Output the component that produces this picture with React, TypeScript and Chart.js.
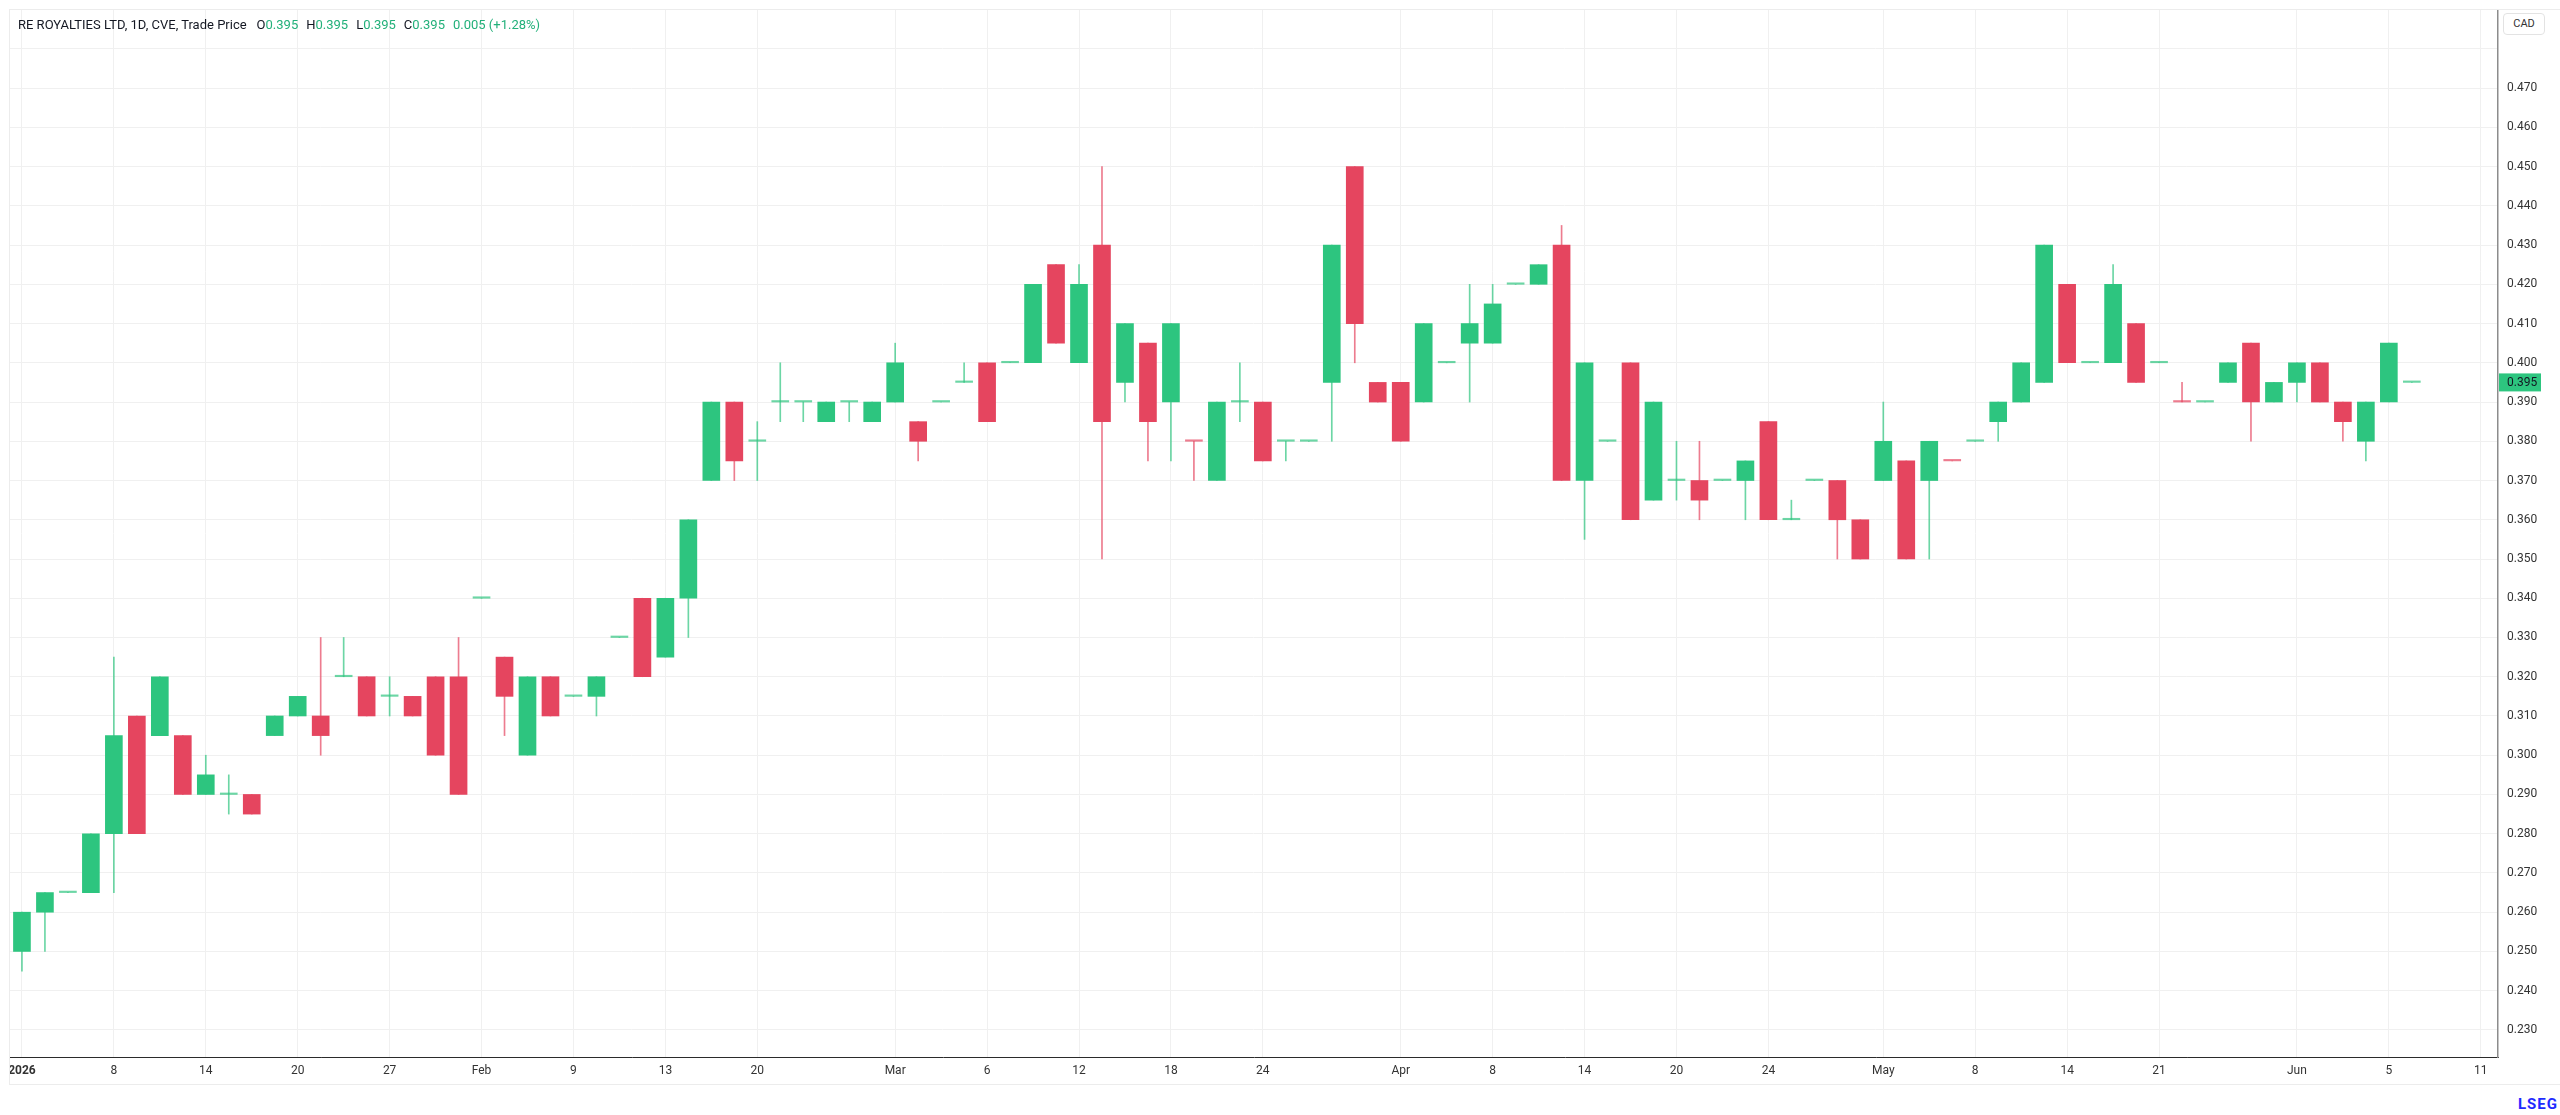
import React, { useEffect, useRef } from 'react';
import { Chart, registerables } from 'chart.js';

Chart.register(...registerables);

// daily bars, one per trading session with trades (index = bar number)
const opens = [
    0.25, 0.26, 0.265, 0.265, 0.28, 0.31, 0.305, 0.305, 0.29, 0.29,
    0.29, 0.305, 0.31, 0.31, 0.32, 0.32, 0.315, 0.315, 0.32, 0.32,
    0.34, 0.325, 0.30, 0.32, 0.315, 0.315, 0.33, 0.34, 0.325, 0.34,
    0.37, 0.39, 0.38, 0.39, 0.39, 0.385, 0.39, 0.385, 0.39, 0.385,
    0.39, 0.395, 0.40, 0.40, 0.40, 0.425, 0.40, 0.43, 0.395, 0.405,
    0.39, 0.38, 0.37, 0.39, 0.39, 0.38, 0.38, 0.395, 0.45, 0.395,
    0.395, 0.39, 0.40, 0.405, 0.405, 0.42, 0.42, 0.43, 0.37, 0.38,
    0.40, 0.365, 0.37, 0.37, 0.37, 0.37, 0.385, 0.36, 0.37, 0.37,
    0.36, 0.37, 0.375, 0.37, 0.375, 0.38, 0.385, 0.39, 0.395, 0.42,
    0.40, 0.40, 0.41, 0.40, 0.39, 0.39, 0.395, 0.405, 0.39, 0.395,
    0.40, 0.39, 0.38, 0.39, 0.395,
];
const highs = [
    0.26, 0.265, 0.265, 0.28, 0.325, 0.31, 0.32, 0.305, 0.30, 0.295,
    0.29, 0.31, 0.315, 0.33, 0.33, 0.32, 0.32, 0.315, 0.32, 0.33,
    0.34, 0.325, 0.32, 0.32, 0.315, 0.32, 0.33, 0.34, 0.34, 0.36,
    0.39, 0.39, 0.385, 0.40, 0.39, 0.39, 0.39, 0.39, 0.405, 0.385,
    0.39, 0.40, 0.40, 0.40, 0.42, 0.425, 0.425, 0.45, 0.41, 0.405,
    0.41, 0.38, 0.39, 0.40, 0.39, 0.38, 0.38, 0.43, 0.45, 0.395,
    0.395, 0.41, 0.40, 0.42, 0.42, 0.42, 0.425, 0.435, 0.40, 0.38,
    0.40, 0.39, 0.38, 0.38, 0.37, 0.375, 0.385, 0.365, 0.37, 0.37,
    0.36, 0.39, 0.375, 0.38, 0.375, 0.38, 0.39, 0.40, 0.43, 0.42,
    0.40, 0.425, 0.41, 0.40, 0.395, 0.39, 0.40, 0.405, 0.395, 0.40,
    0.40, 0.39, 0.39, 0.405, 0.395,
];
const lows = [
    0.245, 0.25, 0.265, 0.265, 0.265, 0.28, 0.305, 0.29, 0.29, 0.285,
    0.285, 0.305, 0.31, 0.30, 0.32, 0.31, 0.31, 0.31, 0.30, 0.29,
    0.34, 0.305, 0.30, 0.31, 0.315, 0.31, 0.33, 0.32, 0.325, 0.33,
    0.37, 0.37, 0.37, 0.385, 0.385, 0.385, 0.385, 0.385, 0.39, 0.375,
    0.39, 0.395, 0.385, 0.40, 0.40, 0.405, 0.40, 0.35, 0.39, 0.375,
    0.375, 0.37, 0.37, 0.385, 0.375, 0.375, 0.38, 0.38, 0.40, 0.39,
    0.38, 0.39, 0.40, 0.39, 0.405, 0.42, 0.42, 0.37, 0.355, 0.38,
    0.36, 0.365, 0.365, 0.36, 0.37, 0.36, 0.36, 0.36, 0.37, 0.35,
    0.35, 0.37, 0.35, 0.35, 0.375, 0.38, 0.38, 0.39, 0.395, 0.40,
    0.40, 0.40, 0.395, 0.40, 0.39, 0.39, 0.395, 0.38, 0.39, 0.39,
    0.39, 0.38, 0.375, 0.39, 0.395,
];
const closes = [
    0.26, 0.265, 0.265, 0.28, 0.305, 0.28, 0.32, 0.29, 0.295, 0.29,
    0.285, 0.31, 0.315, 0.305, 0.32, 0.31, 0.315, 0.31, 0.30, 0.29,
    0.34, 0.315, 0.32, 0.31, 0.315, 0.32, 0.33, 0.32, 0.34, 0.36,
    0.39, 0.375, 0.38, 0.39, 0.39, 0.39, 0.39, 0.39, 0.40, 0.38,
    0.39, 0.395, 0.385, 0.40, 0.42, 0.405, 0.42, 0.385, 0.41, 0.385,
    0.41, 0.38, 0.39, 0.39, 0.375, 0.38, 0.38, 0.43, 0.41, 0.39,
    0.38, 0.41, 0.40, 0.41, 0.415, 0.42, 0.425, 0.37, 0.40, 0.38,
    0.36, 0.39, 0.37, 0.365, 0.37, 0.375, 0.36, 0.36, 0.37, 0.36,
    0.35, 0.38, 0.35, 0.38, 0.375, 0.38, 0.39, 0.40, 0.43, 0.40,
    0.40, 0.42, 0.395, 0.40, 0.39, 0.39, 0.40, 0.39, 0.395, 0.40,
    0.39, 0.385, 0.39, 0.405, 0.395,
];
// flat bars that printed red
const downDojis = [51, 84, 94];

const dateTickIdx = [0, 4, 8, 12, 16, 20, 24, 28, 32, 38, 42, 46, 50, 54, 60, 64, 68, 72, 76, 81, 85, 89, 93, 99, 103, 107];
const dateTickLabels = ['2026', '8', '14', '20', '27', 'Feb', '9', '13', '20', 'Mar', '6', '12', '18', '24', 'Apr', '8', '14', '20', '24', 'May', '8', '14', '21', 'Jun', '5', '11'];
const priceTicks = [0.23, 0.24, 0.25, 0.26, 0.27, 0.28, 0.29, 0.30, 0.31, 0.32, 0.33, 0.34, 0.35, 0.36, 0.37, 0.38, 0.39, 0.40, 0.41, 0.42, 0.43, 0.44, 0.45, 0.46, 0.47, 0.48];
const lastPrice = 0.395;

const UP = '#2dc57f';
const DOWN = '#e5455f';
const UP_SOFT = 'rgba(45, 197, 127, 0.7)';
const DOWN_SOFT = 'rgba(229, 69, 95, 0.7)';
const FONT = 'Roboto, "Open Sans", sans-serif';

const isUp = (i: number) => closes[i] > opens[i] || (closes[i] === opens[i] && !downDojis.includes(i));

const lastPriceTag = {
    id: 'lastPriceTag',
    afterDraw(chart: Chart) {
        const y = chart.scales.y;
        const { ctx } = chart;
        const py = y.getPixelForValue(lastPrice);
        ctx.save();
        ctx.fillStyle = UP;
        ctx.fillRect(y.left + 1, py - 9, 42, 18);
        ctx.fillStyle = '#131722';
        ctx.font = `12px ${FONT}`;
        ctx.textBaseline = 'middle';
        ctx.fillText(lastPrice.toFixed(3), y.left + 9, py + 0.5);
        ctx.restore();
    },
};

const CandleChart: React.FC = () => {
    const canvasRef = useRef<HTMLCanvasElement | null>(null);

    useEffect(() => {
        if (!canvasRef.current) return;
        const idx = opens.map((_, i) => i);

        const chart = new Chart(canvasRef.current, {
            type: 'bar',
            data: {
                datasets: [
                    {
                        label: 'body',
                        data: idx.map(i => ({ x: i, y: [opens[i], closes[i]] })) as any,
                        backgroundColor: idx.map(i => {
                            const flat = opens[i] === closes[i];
                            if (isUp(i)) return flat ? UP_SOFT : UP;
                            return flat ? DOWN_SOFT : DOWN;
                        }),
                        borderWidth: 0,
                        barThickness: 17,
                        minBarLength: 1.5,
                        grouped: false,
                    },
                    {
                        label: 'wick',
                        data: idx.map(i => ({ x: i, y: [lows[i], highs[i]] })) as any,
                        backgroundColor: idx.map(i => (isUp(i) ? UP_SOFT : DOWN_SOFT)),
                        borderWidth: 0,
                        barThickness: 1,
                        grouped: false,
                    },
                ],
            },
            options: {
                responsive: true,
                maintainAspectRatio: false,
                animation: false,
                layout: { padding: 0 },
                plugins: {
                    legend: { display: false },
                    tooltip: { enabled: false },
                },
                scales: {
                    x: {
                        type: 'linear',
                        min: -0.52,
                        max: 107.75,
                        bounds: 'data',
                        offset: false,
                        afterBuildTicks: (s: any) => {
                            s.ticks = dateTickIdx.map(v => ({ value: v }));
                        },
                        afterFit: (s: any) => {
                            s.height = 28;
                            s.paddingLeft = 0;
                            s.paddingRight = 0;
                        },
                        grid: { color: '#f0f0f0', drawTicks: false, offset: false },
                        border: { color: '#2b2b2b', width: 1 },
                        ticks: {
                            autoSkip: false,
                            maxRotation: 0,
                            padding: 7,
                            color: '#333',
                            font: (c: any) => ({ family: FONT, size: 12, weight: c.index === 0 ? 'bold' : 'normal' }),
                            callback: (_v: any, i: number) => dateTickLabels[i],
                        },
                    },
                    y: {
                        type: 'linear',
                        position: 'right',
                        min: 0.2231,
                        max: 0.4899,
                        bounds: 'data',
                        beginAtZero: false,
                        afterBuildTicks: (s: any) => {
                            s.ticks = priceTicks.map(v => ({ value: v }));
                        },
                        afterFit: (s: any) => {
                            s.width = 62;
                            s.paddingTop = 0;
                            s.paddingBottom = 0;
                        },
                        grid: { color: '#f0f0f0', drawTicks: false },
                        border: { color: '#8c8c8c', width: 1.5 },
                        ticks: {
                            padding: 9,
                            color: '#333',
                            font: { family: FONT, size: 12 },
                            callback: (v: any) => (Number(v) > 0.475 ? '' : Number(v).toFixed(3)),
                        },
                    },
                },
            },
            plugins: [lastPriceTag],
        });

        return () => {
            chart.destroy();
        };
    }, []);

    return <canvas ref={canvasRef} />;
};

const App: React.FC = () => {
    const val: React.CSSProperties = { color: '#22b07a' };
    const gap: React.CSSProperties = { marginLeft: 8 };
    return (
        <div style={{ position: 'fixed', left: 0, top: 0, width: 2560, height: 1115, background: '#fff', fontFamily: FONT, overflow: 'hidden' }}>
            <div style={{ position: 'absolute', left: 9, top: 9, width: 2551, height: 1076, borderTop: '1px solid #ececec', borderLeft: '1px solid #ececec', borderBottom: '1px solid #ececec', boxSizing: 'border-box' }} />
            <div style={{ position: 'absolute', left: 10, top: 10, width: 2550, height: 1075 }}>
                <CandleChart />
            </div>
            <div style={{ position: 'absolute', left: 18, top: 17, fontSize: 13, lineHeight: '16px', color: '#131722', whiteSpace: 'nowrap' }}>
                <span>RE ROYALTIES LTD, 1D, CVE, Trade Price</span>
                <span style={{ marginLeft: 10 }}>O<span style={val}>0.395</span></span>
                <span style={gap}>H<span style={val}>0.395</span></span>
                <span style={gap}>L<span style={val}>0.395</span></span>
                <span style={gap}>C<span style={val}>0.395</span></span>
                <span style={{ ...gap, ...val }}>0.005 (+1.28%)</span>
            </div>
            <div style={{ position: 'absolute', left: 2503, top: 13, width: 42, height: 22, border: '1px solid #e3e3e3', borderRadius: 4, boxSizing: 'border-box', fontSize: 11, lineHeight: '20px', textAlign: 'center', color: '#333', background: '#fff' }}>
                CAD
            </div>
            <div style={{ position: 'absolute', left: 2518, top: 1095, fontSize: 15, fontWeight: 'bold', letterSpacing: 1, color: '#1f2bff', lineHeight: '18px' }}>
                LSEG
            </div>
        </div>
    );
};

export default App;
